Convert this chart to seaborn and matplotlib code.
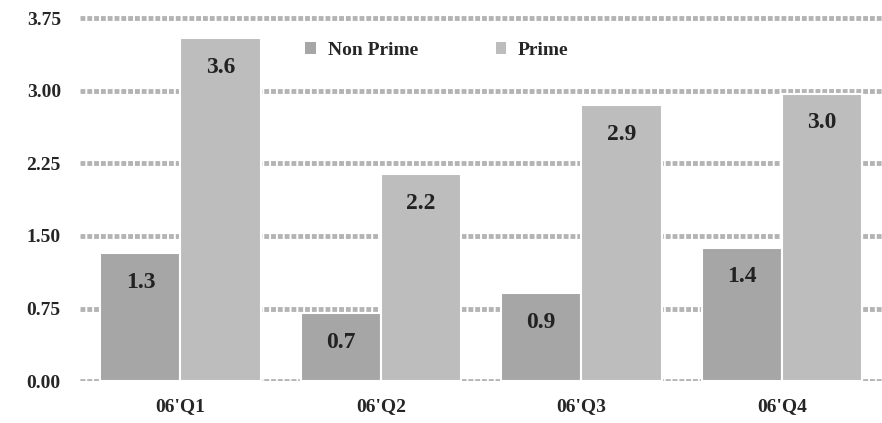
import matplotlib
matplotlib.use("Agg")
import matplotlib.pyplot as plt
import seaborn as sns
import pandas as pd
from matplotlib.patches import Patch

# values
quarters = ["06'Q1", "06'Q2", "06'Q3", "06'Q4"]
non_prime = [1.32, 0.70, 0.91, 1.38]
prime = [3.54, 2.14, 2.85, 2.97]
non_prime_labels = ["1.3", "0.7", "0.9", "1.4"]
prime_labels = ["3.6", "2.2", "2.9", "3.0"]
series = ["Non Prime", "Prime"]
yticks = [0.0, 0.75, 1.5, 2.25, 3.0, 3.75]

df = pd.DataFrame({
    "quarter": quarters * 2,
    "value": non_prime + prime,
    "series": ["Non Prime"] * 4 + ["Prime"] * 4,
})

sns.set_style("white")
plt.rcParams["font.family"] = ["Liberation Serif", "DejaVu Serif"]
plt.rcParams["font.weight"] = "bold"

colors = {"Non Prime": "#a6a6a6", "Prime": "#bdbdbd"}

fig = plt.figure(figsize=(8.82, 4.23), dpi=100)
ax = fig.add_axes([0.091, 0.099, 0.909, 0.865])

sns.barplot(data=df, x="quarter", y="value", hue="series", hue_order=series,
            palette=colors, width=0.8, edgecolor="white", linewidth=1.5,
            saturation=1, ax=ax, legend=False, zorder=2)

ax.set_ylim(0, 3.78)
ax.set_xlim(-0.5, 3.5)
ax.set_yticks(yticks)
ax.set_yticklabels([f"{t:.2f}" for t in yticks])
ax.yaxis.grid(True, color="#b4b4b4", linewidth=3.5, linestyle=(0, (1, 0.4)), zorder=0)
ax.axhline(0, color="#c8c8c8", linewidth=1, zorder=1)
ax.set_axisbelow(True)
for s in ax.spines.values():
    s.set_visible(False)
ax.tick_params(axis="both", length=0, labelsize=14)
ax.tick_params(axis="y", pad=14)
ax.tick_params(axis="x", pad=12)
ax.set_xlabel("")
ax.set_ylabel("")

# value labels inside the top of each bar
for cont, labels in zip(ax.containers, [non_prime_labels, prime_labels]):
    for bar, lab in zip(cont, labels):
        ax.annotate(lab, (bar.get_x() + bar.get_width() / 2, bar.get_height()),
                    xytext=(0, -21), textcoords="offset points",
                    ha="center", va="center", fontsize=17, fontweight="bold",
                    color="#222222")

handles = [Patch(facecolor=colors[s], edgecolor="none") for s in series]
ax.legend(handles, series, loc="upper center", bbox_to_anchor=(0.445, 0.975),
          ncol=2, frameon=False, handlelength=0.55, handleheight=0.55,
          columnspacing=4.0, handletextpad=0.6, prop={"size": 14, "weight": "bold"})

fig.savefig("out.png", dpi=100)
